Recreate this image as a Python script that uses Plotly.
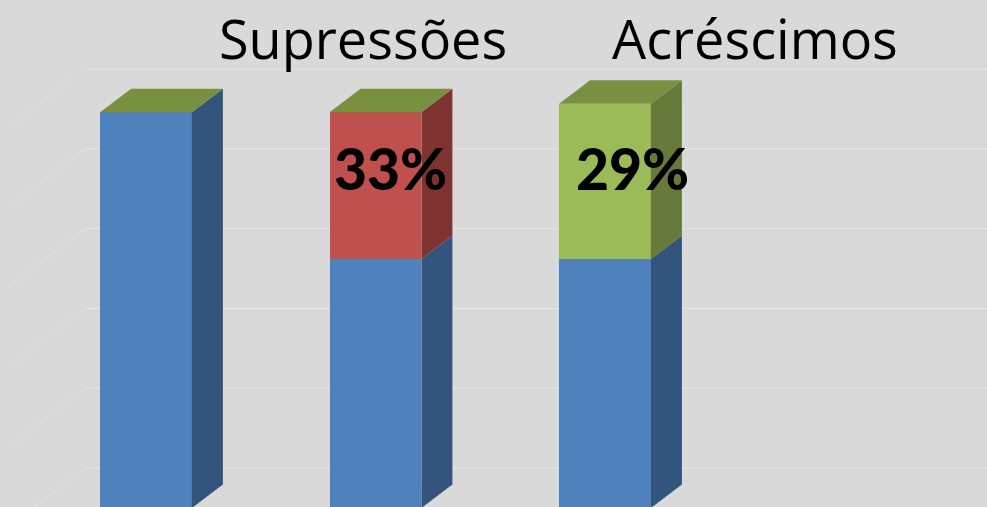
import plotly.graph_objects as go

# --- data ---
categories = [0, 1, 2]
base_values = [99.2, 62.4, 62.4]
suppressed_values = [0, 36.8, 0]
added_values = [0, 0, 38.9]
grid_levels = [10, 30, 50, 70, 90, 110]
pct_labels = ["33%", "29%"]
headers = ["Supressões", "Acréscimos"]

# --- styling and geometry ---
W, H = 987, 507
X_RANGE = [-146 / 229.5, (987 - 146) / 229.5]
Y_RANGE = [0.25, 127.3]
BAR_W = 0.4
DX, DY = 31 / 229.5, 23.5 / 3.99
WALL_X = (85 - 146) / 229.5
FLOOR_DX, FLOOR_DY = 77 / 229.5, 59 / 3.99
BLUE, BLUE_S = "#4f81bd", "#32547d"
RED, RED_S = "#c0504d", "#7f3331"
GREEN, GREEN_S = "#9bbb59", "#667a3a"
TOP = "#78903f"
BG = "#d9d9d9"
GRID = "#e7e7e7"
DIAG = "#e1e1e1"


def px_x(p):
    return (p - 146) / 229.5


def px_y(p):
    return (508 - p) / 3.99


fig = go.Figure()
fig.add_bar(x=categories, y=base_values, width=BAR_W, marker=dict(color=BLUE, line=dict(width=0)), hoverinfo="skip")
fig.add_bar(x=categories, y=suppressed_values, width=BAR_W, marker=dict(color=RED, line=dict(width=0)), hoverinfo="skip")
fig.add_bar(x=categories, y=added_values, width=BAR_W, marker=dict(color=GREEN, line=dict(width=0)), hoverinfo="skip")


def poly(xs, ys, color):
    fig.add_scatter(x=xs, y=ys, mode="lines", fill="toself", fillcolor=color,
                    line=dict(width=0, color=color), hoverinfo="skip")


for i, c in enumerate(categories):
    r = c + BAR_W / 2
    l = c - BAR_W / 2
    bottom = 0
    for series, color in ((base_values, BLUE_S), (suppressed_values, RED_S), (added_values, GREEN_S)):
        v = series[i]
        if v > 0:
            top = bottom + v
            poly([r, r + DX, r + DX, r, r], [bottom, bottom + DY, top + DY, top, bottom], color)
            bottom = top
    poly([l, r, r + DX, l + DX, l], [bottom, bottom, bottom + DY, bottom + DY, bottom], TOP)

shapes = []
for n, g in enumerate(grid_levels):
    shapes.append(dict(type="line", layer="below", xref="x", yref="y", x0=WALL_X, x1=X_RANGE[1], y0=g, y1=g,
                       line=dict(color=GRID, width=1)))
    start = 0.15 if g == grid_levels[-1] else 0
    shapes.append(dict(type="line", layer="below", xref="x", yref="y",
                       x0=WALL_X - FLOOR_DX * start, y0=g - FLOOR_DY * start,
                       x1=WALL_X - FLOOR_DX, y1=g - FLOOR_DY,
                       line=dict(color=DIAG, width=1)))

annotations = []
for text, px, py in zip(headers, (363, 755), (38, 38)):
    annotations.append(dict(x=px_x(px), y=px_y(py), text=text, showarrow=False, xanchor="center", yanchor="middle",
                            font=dict(family="Open Sans", size=54, color="#000000")))
for text, px, py in zip(pct_labels, (390, 632), (168, 168)):
    annotations.append(dict(x=px_x(px), y=px_y(py), text=text, showarrow=False, xanchor="center", yanchor="middle",
                            font=dict(family="Lato", size=57, color="#000000", weight=900)))

fig.update_layout(
    width=W, height=H, autosize=False,
    margin=dict(l=0, r=0, t=0, b=0),
    paper_bgcolor=BG, plot_bgcolor=BG,
    barmode="stack", showlegend=False,
    xaxis=dict(range=X_RANGE, visible=False, fixedrange=True),
    yaxis=dict(range=Y_RANGE, visible=False, fixedrange=True),
    shapes=shapes, annotations=annotations,
)
fig.write_html("out.html", config=dict(displayModeBar=False),
               post_script="document.body.style.margin='0';document.body.style.background='" + BG + "';")
